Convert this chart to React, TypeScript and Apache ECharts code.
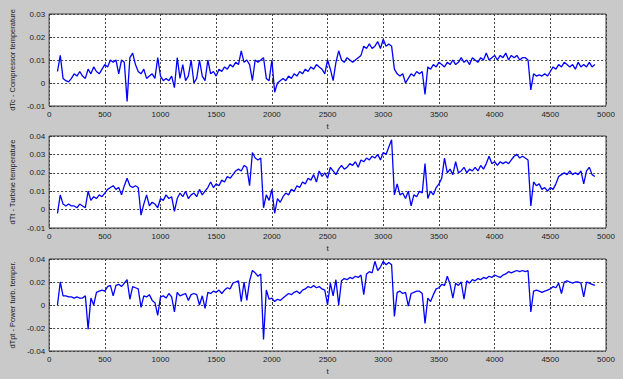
import React, { useEffect, useRef } from "react";
import * as echarts from "echarts";

// sample times: 75, 100, ..., 4900 (step 25)
const tValues: number[] = [];
for (let t = 75; t <= 4900; t += 25) tValues.push(t);

const dTc = [
  0.005, 0.012, 0.002, 0.001, 0.0005, 0.002, 0.004, 0.003, 0.005, 0.003,
  0.002, 0.006, 0.004, 0.007, 0.005, 0.004, 0.006, 0.008, 0.007, 0.010,
  0.009, 0.010, 0.004, 0.010, 0.009, -0.008, 0.011, 0.013, 0.008, 0.005,
  0.004, 0.006, 0.002, 0.003, 0.004, 0.002, 0.011, 0.003, 0.001, 0.002,
  0.001, 0.003, -0.002, 0.011, 0.002, 0.008, 0.001, 0.003, 0.010, 0.000,
  0.002, 0.010, 0.003, 0.001, 0.010, 0.004, 0.005, 0.003, 0.006, 0.005,
  0.007, 0.006, 0.008, 0.007, 0.009, 0.008, 0.014, 0.009, 0.010, 0.008,
  0.001, 0.010, 0.009, 0.010, 0.011, 0.002, 0.001, 0.010, -0.004, 0.000,
  0.001, 0.002, 0.001, 0.003, 0.002, 0.004, 0.003, 0.005, 0.004, 0.006,
  0.005, 0.007, 0.006, 0.008, 0.007, 0.006, 0.004, 0.010, 0.006, 0.001,
  0.009, 0.014, 0.010, 0.009, 0.011, 0.010, 0.009, 0.010, 0.011, 0.012,
  0.016, 0.015, 0.017, 0.015, 0.016, 0.018, 0.015, 0.019, 0.016, 0.017,
  0.016, 0.006, 0.004, 0.003, 0.004, 0.000, 0.002, 0.004, 0.003, 0.005,
  0.004, 0.005, -0.005, 0.007, 0.006, 0.008, 0.007, 0.009, 0.008, 0.007,
  0.009, 0.008, 0.010, 0.008, 0.009, 0.011, 0.009, 0.010, 0.008, 0.011,
  0.010, 0.009, 0.011, 0.010, 0.013, 0.010, 0.011, 0.012, 0.010, 0.012,
  0.011, 0.013, 0.010, 0.012, 0.011, 0.012, 0.010, 0.011, 0.011, 0.010,
  -0.003, 0.004, 0.003, 0.0035, 0.003, 0.004, 0.003, 0.005, 0.007, 0.006,
  0.008, 0.007, 0.009, 0.008, 0.007, 0.008, 0.006, 0.009, 0.007, 0.008,
  0.007, 0.009, 0.007, 0.008,
];

const dTt = [
  -0.002, 0.008, 0.003, 0.002, 0.003, 0.002, 0.002, 0.001, 0.003, 0.002,
  0.001, 0.010, 0.005, 0.007, 0.006, 0.008, 0.007, 0.009, 0.011, 0.012,
  0.013, 0.011, 0.012, 0.008, 0.013, 0.017, 0.013, 0.012, 0.013, 0.012,
  -0.003, 0.003, 0.008, 0.002, 0.004, 0.003, 0.001, 0.006, 0.005, 0.008,
  0.006, 0.007, -0.001, 0.006, 0.009, 0.007, 0.010, 0.006, 0.008, 0.009,
  0.007, 0.011, 0.008, 0.010, 0.012, 0.015, 0.012, 0.014, 0.013, 0.016,
  0.015, 0.018, 0.017, 0.019, 0.021, 0.022, 0.021, 0.024, 0.023, 0.013,
  0.031, 0.028, 0.027, 0.028, 0.001, 0.008, 0.005, 0.011, -0.002, 0.006,
  0.004, 0.007, 0.009, 0.008, 0.011, 0.010, 0.013, 0.012, 0.015, 0.014,
  0.017, 0.016, 0.019, 0.015, 0.021, 0.018, 0.020, 0.017, 0.023, 0.021,
  0.019, 0.022, 0.024, 0.022, 0.023, 0.025, 0.024, 0.026, 0.023, 0.027,
  0.026, 0.028, 0.027, 0.029, 0.028, 0.030, 0.027, 0.031, 0.030, 0.034,
  0.038, 0.008, 0.014, 0.008, 0.009, 0.006, 0.010, 0.002, 0.008, 0.007,
  0.010, 0.009, 0.025, 0.006, 0.010, 0.008, 0.012, 0.014, 0.017, 0.028,
  0.020, 0.022, 0.019, 0.026, 0.020, 0.021, 0.023, 0.020, 0.022, 0.021,
  0.023, 0.021, 0.024, 0.022, 0.025, 0.029, 0.025, 0.026, 0.024, 0.026,
  0.025, 0.026, 0.025, 0.027, 0.029, 0.030, 0.028, 0.029, 0.028, 0.027,
  0.002, 0.015, 0.013, 0.014, 0.011, 0.012, 0.010, 0.012, 0.011, 0.014,
  0.018, 0.019, 0.020, 0.019, 0.021, 0.019, 0.020, 0.019, 0.021, 0.014,
  0.021, 0.023, 0.019, 0.018,
];

const dTpt = [
  0.000, 0.020, 0.008, 0.008, 0.007, 0.007, 0.006, 0.007, 0.006, 0.006,
  0.008, -0.021, 0.006, 0.000, 0.011, 0.012, 0.013, 0.012, 0.016, 0.017,
  0.008, 0.017, 0.018, 0.016, 0.019, 0.022, 0.005, 0.016, 0.015, 0.014,
  -0.002, 0.008, 0.007, 0.009, 0.004, 0.002, -0.009, 0.007, 0.008, 0.006,
  0.010, 0.007, -0.006, 0.011, 0.008, 0.009, 0.010, 0.004, 0.009, 0.010,
  0.009, 0.000, 0.008, -0.003, 0.011, 0.010, 0.012, 0.011, 0.013, 0.010,
  0.013, 0.015, 0.014, 0.019, 0.020, 0.021, 0.003, 0.020, 0.004, 0.021,
  0.030, 0.028, 0.025, 0.027, -0.030, 0.013, 0.005, 0.006, 0.003, 0.005,
  0.004, 0.006, 0.008, 0.010, 0.009, 0.011, 0.012, 0.010, 0.013, 0.014,
  0.016, 0.015, 0.017, 0.015, 0.016, 0.014, 0.013, 0.000, 0.019, 0.008,
  0.022, 0.000, 0.021, 0.023, 0.022, 0.024, 0.023, 0.025, 0.024, 0.026,
  0.009, 0.027, 0.029, 0.028, 0.038, 0.030, 0.033, 0.038, 0.035, 0.037,
  0.035, -0.010, 0.011, 0.012, 0.010, 0.011, -0.001, 0.010, 0.011, 0.012,
  0.012, 0.010, -0.016, 0.006, 0.003, 0.009, 0.014, 0.015, 0.018, 0.017,
  0.025, 0.018, 0.006, 0.019, 0.017, 0.020, 0.005, 0.021, 0.019, 0.022,
  0.021, 0.023, 0.022, 0.024, 0.023, 0.025, 0.024, 0.026, 0.025, 0.024,
  0.026, 0.027, 0.029, 0.028, 0.029, 0.030, 0.029, 0.030, 0.029, 0.030,
  -0.006, 0.012, 0.013, 0.012, 0.011, 0.012, 0.013, 0.014, 0.016, 0.015,
  0.019, 0.010, 0.020, 0.021, 0.020, 0.019, 0.020, 0.020, 0.019, 0.007,
  0.020, 0.019, 0.018, 0.017,
];

const yNames = [
  "dTc - Compressor temperature",
  "dTt - Turbine temperature",
  "dTpt - Power turb. temper.",
];
const yRanges = [
  { min: -0.01, max: 0.03, interval: 0.01 },
  { min: -0.01, max: 0.04, interval: 0.01 },
  { min: -0.04, max: 0.04, interval: 0.02 },
];
const xName = "t";

export default function App() {
  const ref = useRef<HTMLDivElement>(null);
  useEffect(() => {
    if (!ref.current) return;
    const chart = echarts.init(ref.current, undefined, { renderer: "svg" });
    const series = [dTc, dTt, dTpt];
    const tops = [14, 136, 259];
    const font = "Liberation Sans, Arial, sans-serif";
    const grids = tops.map((top) => ({
      left: 40,
      right: 17,
      top,
      height: 92,
      show: true,
      backgroundColor: "#ffffff",
      borderColor: "#3a3a3a",
      borderWidth: 1,
    }));
    const xAxes = tops.map((_, i) => ({
      type: "value",
      gridIndex: i,
      min: 0,
      max: 5000,
      interval: 500,
      name: xName,
      nameLocation: "middle",
      nameGap: 16,
      nameTextStyle: { fontSize: 8, color: "#222", fontFamily: font },
      axisLine: { show: false },
      axisTick: { show: true, inside: true, length: 3, lineStyle: { color: "#333" } },
      axisLabel: {
        fontSize: 8,
        color: "#222",
        fontFamily: font,
        margin: 4,
        formatter: (v: number) => String(v),
      },
      splitLine: { show: true, lineStyle: { color: "#444", type: [2, 2], width: 1 } },
    }));
    const yAxes = yRanges.map((r, i) => ({
      type: "value",
      gridIndex: i,
      min: r.min,
      max: r.max,
      interval: r.interval,
      name: yNames[i],
      nameLocation: "middle",
      nameGap: 24,
      nameTextStyle: { fontSize: 7.5, color: "#222", fontFamily: font },
      axisLine: { show: false },
      axisTick: { show: true, inside: true, length: 3, lineStyle: { color: "#333" } },
      axisLabel: {
        fontSize: 8,
        color: "#222",
        fontFamily: font,
        margin: 4,
        formatter: (v: number) => String(parseFloat(v.toFixed(4))),
      },
      splitLine: { show: true, lineStyle: { color: "#444", type: [2, 2], width: 1 } },
    }));
    chart.setOption({
      animation: false,
      backgroundColor: "#c9c9c9",
      grid: grids,
      xAxis: xAxes,
      yAxis: yAxes,
      series: series.map((vals, i) => ({
        type: "line",
        xAxisIndex: i,
        yAxisIndex: i,
        data: tValues.map((t, j) => [t, vals[j]]),
        showSymbol: false,
        lineStyle: { color: "#0000ff", width: 1.3 },
        itemStyle: { color: "#0000ff" },
      })),
    });
    return () => chart.dispose();
  }, []);
  return (
    <div
      ref={ref}
      style={{ position: "absolute", left: 0, top: 0, width: 623, height: 379 }}
    />
  );
}
